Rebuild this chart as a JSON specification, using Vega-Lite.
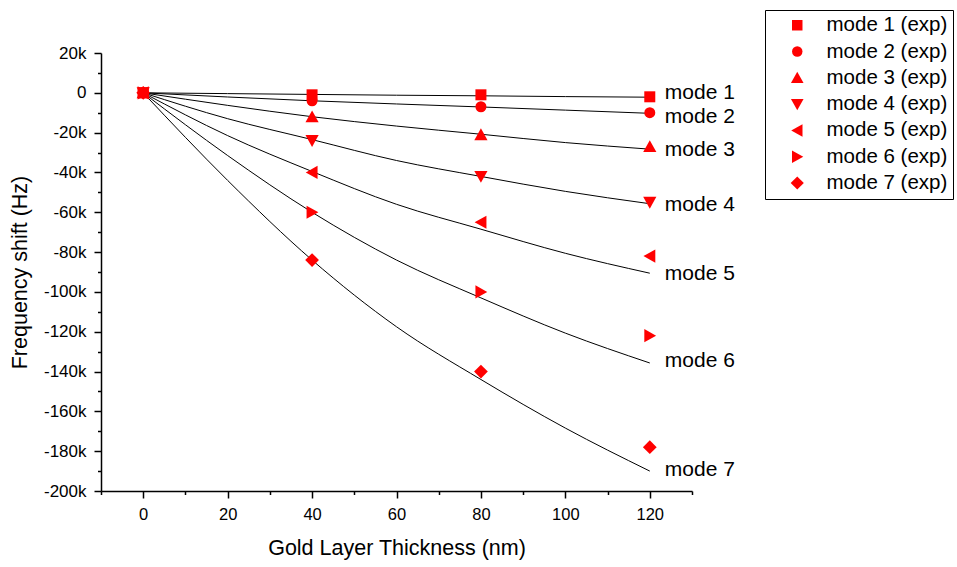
{
  "$schema": "https://vega.github.io/schema/vega-lite/v6.json",
  "width": 591,
  "height": 438,
  "autosize": {"type": "none"},
  "padding": {"left": 101, "top": 53, "right": 265, "bottom": 76},
  "background": "white",
  "config": {
    "font": "Liberation Sans",
    "view": {"stroke": null},
    "axis": {"grid": false, "domainColor": "black", "tickColor": "black", "labelColor": "black", "titleColor": "black", "domainWidth": 1.5, "tickWidth": 1.5, "labelFontSize": 16.5, "titleFontSize": 21.5, "titleFontWeight": "normal", "labelOverlap": false, "labelFlush": false}
  },
  "datasets": {
    "fits": [
      {"mode": "mode 1", "x": 0, "y": 0}, {"mode": "mode 1", "x": 20, "y": -400}, {"mode": "mode 1", "x": 40, "y": -800}, {"mode": "mode 1", "x": 60, "y": -1200}, {"mode": "mode 1", "x": 80, "y": -1500}, {"mode": "mode 1", "x": 100, "y": -1900}, {"mode": "mode 1", "x": 120, "y": -2200},
      {"mode": "mode 2", "x": 0, "y": 0}, {"mode": "mode 2", "x": 20, "y": -2100}, {"mode": "mode 2", "x": 40, "y": -4000}, {"mode": "mode 2", "x": 60, "y": -5600}, {"mode": "mode 2", "x": 80, "y": -7100}, {"mode": "mode 2", "x": 100, "y": -8700}, {"mode": "mode 2", "x": 120, "y": -10300},
      {"mode": "mode 3", "x": 0, "y": 0}, {"mode": "mode 3", "x": 20, "y": -6300}, {"mode": "mode 3", "x": 40, "y": -12000}, {"mode": "mode 3", "x": 60, "y": -16700}, {"mode": "mode 3", "x": 80, "y": -20800}, {"mode": "mode 3", "x": 100, "y": -25000}, {"mode": "mode 3", "x": 120, "y": -28300},
      {"mode": "mode 4", "x": 0, "y": 0}, {"mode": "mode 4", "x": 20, "y": -13000}, {"mode": "mode 4", "x": 40, "y": -23500}, {"mode": "mode 4", "x": 60, "y": -34000}, {"mode": "mode 4", "x": 80, "y": -42000}, {"mode": "mode 4", "x": 100, "y": -49500}, {"mode": "mode 4", "x": 120, "y": -55700},
      {"mode": "mode 5", "x": 0, "y": 0}, {"mode": "mode 5", "x": 20, "y": -21500}, {"mode": "mode 5", "x": 40, "y": -39500}, {"mode": "mode 5", "x": 60, "y": -56000}, {"mode": "mode 5", "x": 80, "y": -68500}, {"mode": "mode 5", "x": 100, "y": -80600}, {"mode": "mode 5", "x": 120, "y": -90600},
      {"mode": "mode 6", "x": 0, "y": 0}, {"mode": "mode 6", "x": 20, "y": -31500}, {"mode": "mode 6", "x": 40, "y": -60000}, {"mode": "mode 6", "x": 60, "y": -84000}, {"mode": "mode 6", "x": 80, "y": -103000}, {"mode": "mode 6", "x": 100, "y": -120700}, {"mode": "mode 6", "x": 120, "y": -135700},
      {"mode": "mode 7", "x": 0, "y": 0}, {"mode": "mode 7", "x": 20, "y": -44000}, {"mode": "mode 7", "x": 40, "y": -84000}, {"mode": "mode 7", "x": 60, "y": -117500}, {"mode": "mode 7", "x": 80, "y": -144000}, {"mode": "mode 7", "x": 100, "y": -168400}, {"mode": "mode 7", "x": 120, "y": -190000}
    ],
    "exp": [
      {"series": "mode 1 (exp)", "x": 0, "y": 0}, {"series": "mode 1 (exp)", "x": 40, "y": -1000}, {"series": "mode 1 (exp)", "x": 80, "y": -1000}, {"series": "mode 1 (exp)", "x": 120, "y": -2000},
      {"series": "mode 2 (exp)", "x": 0, "y": 0}, {"series": "mode 2 (exp)", "x": 40, "y": -4000}, {"series": "mode 2 (exp)", "x": 80, "y": -7000}, {"series": "mode 2 (exp)", "x": 120, "y": -10000},
      {"series": "mode 3 (exp)", "x": 0, "y": 0}, {"series": "mode 3 (exp)", "x": 40, "y": -12000}, {"series": "mode 3 (exp)", "x": 80, "y": -21000}, {"series": "mode 3 (exp)", "x": 120, "y": -27000},
      {"series": "mode 4 (exp)", "x": 0, "y": 0}, {"series": "mode 4 (exp)", "x": 40, "y": -24000}, {"series": "mode 4 (exp)", "x": 80, "y": -42000}, {"series": "mode 4 (exp)", "x": 120, "y": -55000},
      {"series": "mode 5 (exp)", "x": 0, "y": 0}, {"series": "mode 5 (exp)", "x": 40, "y": -40000}, {"series": "mode 5 (exp)", "x": 80, "y": -65000}, {"series": "mode 5 (exp)", "x": 120, "y": -82000},
      {"series": "mode 6 (exp)", "x": 0, "y": 0}, {"series": "mode 6 (exp)", "x": 40, "y": -60000}, {"series": "mode 6 (exp)", "x": 80, "y": -100000}, {"series": "mode 6 (exp)", "x": 120, "y": -122000},
      {"series": "mode 7 (exp)", "x": 0, "y": 0}, {"series": "mode 7 (exp)", "x": 40, "y": -84000}, {"series": "mode 7 (exp)", "x": 80, "y": -140000}, {"series": "mode 7 (exp)", "x": 120, "y": -178000}
    ],
    "labels": [
      {"mode": "mode 1", "x": 120, "y": 0},
      {"mode": "mode 2", "x": 120, "y": -12000},
      {"mode": "mode 3", "x": 120, "y": -28700},
      {"mode": "mode 4", "x": 120, "y": -56300},
      {"mode": "mode 5", "x": 120, "y": -90900},
      {"mode": "mode 6", "x": 120, "y": -134900},
      {"mode": "mode 7", "x": 120, "y": -189300}
    ]
  },
  "encoding": {
    "x": {
      "field": "x", "type": "quantitative",
      "scale": {"domain": [-10, 130], "nice": false, "zero": false},
      "axis": {
        "title": "Gold Layer Thickness (nm)",
        "values": [-10, 0, 10, 20, 30, 40, 50, 60, 70, 80, 90, 100, 110, 120, 130],
        "labelExpr": "datum.value % 20 === 0 ? datum.label : ''",
        "tickSize": {"condition": {"test": "datum.value % 20 === 0", "value": 7}, "value": 3.5},
        "labelPadding": 8,
        "titlePadding": 15
      }
    },
    "y": {
      "field": "y", "type": "quantitative",
      "scale": {"domain": [-200000, 20000], "nice": false, "zero": false},
      "axis": {
        "title": "Frequency shift (Hz)",
        "labelFontSize": 17,
        "values": [-200000, -190000, -180000, -170000, -160000, -150000, -140000, -130000, -120000, -110000, -100000, -90000, -80000, -70000, -60000, -50000, -40000, -30000, -20000, -10000, 0, 10000, 20000],
        "labelExpr": "datum.value % 20000 === 0 ? (datum.value === 0 ? '0' : (datum.value / 1000) + 'k') : ''",
        "tickSize": {"condition": {"test": "datum.value % 20000 === 0", "value": 7}, "value": 3.5},
        "labelPadding": 8,
        "titlePadding": 12
      }
    }
  },
  "layer": [
    {
      "data": {"name": "fits"},
      "mark": {"type": "line", "color": "black", "strokeWidth": 1, "interpolate": "monotone"},
      "encoding": {"detail": {"field": "mode", "type": "nominal"}}
    },
    {
      "data": {"name": "exp"},
      "mark": {"type": "point", "filled": true, "color": "#ff0000", "opacity": 1, "strokeWidth": 0, "size": 121},
      "encoding": {
        "shape": {
          "field": "series", "type": "nominal",
          "scale": {
            "domain": ["mode 1 (exp)", "mode 2 (exp)", "mode 3 (exp)", "mode 4 (exp)", "mode 5 (exp)", "mode 6 (exp)", "mode 7 (exp)"],
            "range": ["square", "circle", "M0,-1.15L1.2,1L-1.2,1Z", "M0,1.15L1.2,-1L-1.2,-1Z", "M-1.15,0L1,-1.2L1,1.2Z", "M1.15,0L-1,-1.2L-1,1.2Z", "M0,-1.25L1.25,0L0,1.25L-1.25,0Z"]
          },
          "legend": {
            "title": null, "orient": "none", "legendX": 664, "legendY": -43,
            "strokeColor": "black", "padding": 5,
            "symbolOffset": 17, "labelOffset": 19, "rowPadding": 5.3,
            "symbolSize": 110, "symbolFillColor": "#ff0000", "symbolStrokeWidth": 0,
            "labelFontSize": 20.5, "labelColor": "black", "labelFont": "Liberation Sans", "labelLimit": 300
          }
        }
      }
    },
    {
      "data": {"name": "labels"},
      "mark": {"type": "text", "align": "left", "baseline": "middle", "dx": 15, "fontSize": 21, "color": "black"},
      "encoding": {"text": {"field": "mode", "type": "nominal"}}
    }
  ]
}
